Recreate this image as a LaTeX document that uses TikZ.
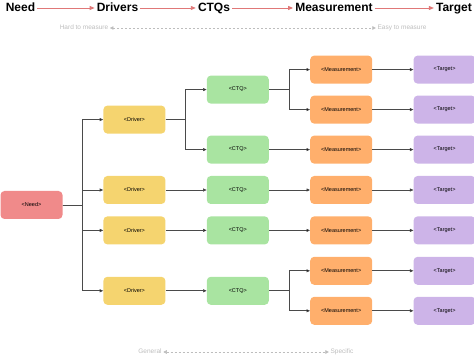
\documentclass[tikz,border=0pt]{standalone}
\usepackage{fontspec}
\setmainfont{Liberation Sans}
\usepackage{tikz}
\usetikzlibrary{
	arrows.meta,
	positioning
}

\definecolor{needfill}{HTML}{F08A8A}
\definecolor{drivfill}{HTML}{F5D46F}
\definecolor{ctqfill}{HTML}{A9E4A1}
\definecolor{measfill}{HTML}{FFAF6C}
\definecolor{targfill}{HTML}{CDB4E8}
\definecolor{headred}{HTML}{E07878}
\definecolor{hintgray}{HTML}{BDBDBD}
\definecolor{linegray}{HTML}{4A4A4A}

\begin{document}
\begin{tikzpicture}[
				x=1pt, y=1pt,
				box/.style={
					rectangle, rounded corners=4pt, draw=none,
					minimum width=62pt, minimum height=28pt, inner sep=0pt,
					align=center, font=\fontsize{5.5}{6}\selectfont
				},
				needbox/.style={box, fill=needfill},
				drivbox/.style={box, fill=drivfill},
				ctqbox/.style={box, fill=ctqfill},
				measbox/.style={box, fill=measfill},
				targbox/.style={box, fill=targfill},
				head/.style={font=\bfseries\fontsize{12}{14}\selectfont, inner sep=2pt,
					text height=9pt, text depth=2.5pt},
				headarrow/.style={-{Triangle[length=5pt,width=4pt,fill=headred]}, line width=0.9pt, draw=headred},
				hint/.style={font=\fontsize{6.5}{7}\selectfont, text=hintgray, inner sep=1.5pt,
					text height=5pt, text depth=1.5pt},
				hintarrow/.style={{Triangle[length=3.5pt,width=3.5pt,fill=hintgray]}-{Triangle[length=3.5pt,width=3.5pt,fill=hintgray]}, line width=0.5pt, draw=hintgray, dash pattern=on 2pt off 2pt},
				arrow/.style={-{Triangle[length=3.5pt,width=3pt,fill=black]}, line width=0.6pt, draw=linegray}
				]
				
				\useasboundingbox (0,0) rectangle (474,358);
				
				% header
				\node[head] (hneed) at (20.5,350) {Need};
				\node[head] (hdriv) at (117.5,350) {Drivers};
				\node[head] (hctq) at (214,350) {CTQs};
				\node[head] (hmeas) at (334,350) {Measurement};
				\node[head] (htarg) at (454,350) {Target};
				\draw[headarrow] (hneed) -- (hdriv);
				\draw[headarrow] (hdriv) -- (hctq);
				\draw[headarrow] (hctq) -- (hmeas);
				\draw[headarrow] (hmeas) -- (htarg);
				
				% measure hints
				\node[hint] (hard) at (84,330) {Hard to measure};
				\node[hint] (easy) at (402,330) {Easy to measure};
				\draw[hintarrow] (hard) -- (easy);
				
				\node[hint] (general) at (150,6) {General};
				\node[hint] (specific) at (342,6) {Specific};
				\draw[hintarrow] (general) -- (specific);
				
				% need
				\node[needbox] (need) at (31.5,153) {<Need>};
				
				% drivers
				\node[drivbox, right=40.5pt of need, yshift=15pt] (drv2) {<Driver>};
				\node[drivbox, above=42pt of drv2] (drv1) {<Driver>};
				\node[drivbox, below=12pt of drv2] (drv3) {<Driver>};
				\node[drivbox, below=32pt of drv3] (drv4) {<Driver>};
				
				% CTQs
				\node[ctqbox, right=41pt of drv1, yshift=30pt] (ctq1) {<CTQ>};
				\node[ctqbox, right=41pt of drv1, yshift=-30pt] (ctq2) {<CTQ>};
				\node[ctqbox, right=41pt of drv2] (ctq3) {<CTQ>};
				\node[ctqbox, right=41pt of drv3] (ctq4) {<CTQ>};
				\node[ctqbox, right=41pt of drv4] (ctq5) {<CTQ>};
				
				% measurements
				\node[measbox, right=41pt of ctq1, yshift=20pt] (meas1) {<Measurement>};
				\node[measbox, right=41pt of ctq1, yshift=-20pt] (meas2) {<Measurement>};
				\node[measbox, right=41pt of ctq2] (meas3) {<Measurement>};
				\node[measbox, right=41pt of ctq3] (meas4) {<Measurement>};
				\node[measbox, right=41pt of ctq4] (meas5) {<Measurement>};
				\node[measbox, right=41pt of ctq5, yshift=20pt] (meas6) {<Measurement>};
				\node[measbox, right=41pt of ctq5, yshift=-20pt] (meas7) {<Measurement>};
				
				% targets
				\foreach \i in {1,...,7}{
					\node[targbox, right=41pt of meas\i] (targ\i) {<Target>};
					\draw[arrow] (meas\i) -- (targ\i);
				}
				
				% need to drivers
				\foreach \i in {1,...,4}
					\draw[arrow] (need.east) -- ++(19.5,0) |- (drv\i.west);
				
				% drivers to CTQs
				\draw[arrow] (drv1.east) -- ++(20,0) |- (ctq1.west);
				\draw[arrow] (drv1.east) -- ++(20,0) |- (ctq2.west);
				\draw[arrow] (drv2) -- (ctq3);
				\draw[arrow] (drv3) -- (ctq4);
				\draw[arrow] (drv4) -- (ctq5);
				
				% CTQs to measurements
				\draw[arrow] (ctq1.east) -- ++(20,0) |- (meas1.west);
				\draw[arrow] (ctq1.east) -- ++(20,0) |- (meas2.west);
				\draw[arrow] (ctq2) -- (meas3);
				\draw[arrow] (ctq3) -- (meas4);
				\draw[arrow] (ctq4) -- (meas5);
				\draw[arrow] (ctq5.east) -- ++(20,0) |- (meas6.west);
				\draw[arrow] (ctq5.east) -- ++(20,0) |- (meas7.west);
			\end{tikzpicture}
\end{document}
